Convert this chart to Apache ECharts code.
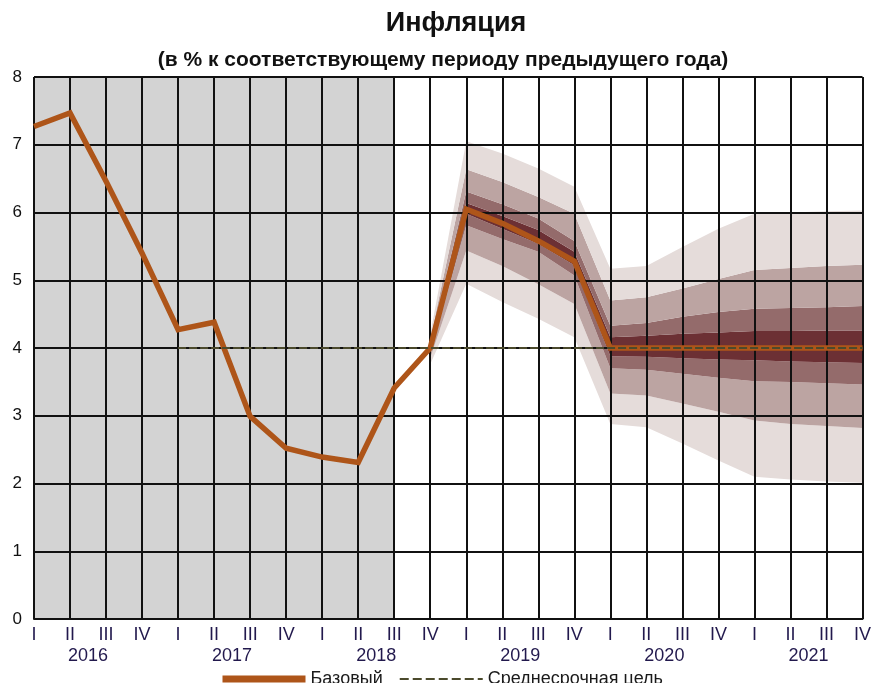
<!DOCTYPE html>
<html>
<head>
<meta charset="utf-8">
<script src="https://cdn.jsdelivr.net/npm/echarts@6/dist/echarts.min.js"></script>
<style>
  html, body { margin: 0; padding: 0; background: #fff; }
  #chart { width: 874px; height: 683px; }
</style>
</head>
<body>
<div id="chart"></div>
<script>
// кварталы и годы
const quarters = ['I', 'II', 'III', 'IV', 'I', 'II', 'III', 'IV', 'I', 'II', 'III', 'IV',
  'I', 'II', 'III', 'IV', 'I', 'II', 'III', 'IV', 'I', 'II', 'III', 'IV']
const years = ['2016', '2017', '2018', '2019', '2020', '2021']

// базовый сценарий
const base = [7.27, 7.47, 6.46, 5.40, 4.27, 4.38, 2.99, 2.52, 2.39, 2.31, 3.41, 4.00,
  6.05, 5.84, 5.58, 5.28, 4.00, 4.00, 4.00, 4.00, 4.00, 4.00, 4.00, 4.00]
// среднесрочная цель (с 2017 I)
const target = [null, null, null, null, 4, 4, 4, 4, 4, 4, 4, 4,
  4, 4, 4, 4, 4, 4, 4, 4, 4, 4, 4, 4]

// веер неопределенности, с 2018 IV по 2021 IV
const lightLow = [3.76, 4.95, 4.68, 4.43, 4.16, 2.88, 2.83, 2.59, 2.34, 2.10, 2.06, 2.03, 2.01]
const medLow = [3.85, 5.44, 5.21, 4.94, 4.65, 3.33, 3.30, 3.18, 3.06, 2.93, 2.88, 2.85, 2.82]
const darkLow = [3.92, 5.81, 5.61, 5.42, 5.07, 3.70, 3.68, 3.62, 3.56, 3.51, 3.50, 3.48, 3.46]
const coreLow = [3.96, 5.98, 5.76, 5.54, 5.22, 3.88, 3.87, 3.85, 3.83, 3.82, 3.80, 3.79, 3.78]
const coreHigh = [4.04, 6.14, 5.95, 5.74, 5.42, 4.16, 4.18, 4.21, 4.23, 4.25, 4.25, 4.26, 4.26]
const darkHigh = [4.08, 6.31, 6.12, 5.91, 5.58, 4.33, 4.37, 4.46, 4.53, 4.58, 4.59, 4.60, 4.62]
const medHigh = [4.13, 6.64, 6.45, 6.23, 5.98, 4.70, 4.75, 4.88, 5.02, 5.15, 5.18, 5.21, 5.23]
const lightHigh = [4.20, 7.05, 6.87, 6.65, 6.38, 5.17, 5.21, 5.49, 5.76, 5.98, 6.00, 6.02, 6.03]
const fanStart = 11

const fanColors = {
  light: '#e5dcda',
  med: '#bca4a2',
  dark: '#946b6b',
  core: '#6c3034'
}

const pad = (arr) => Array(fanStart).fill(null).concat(arr)
const diff = (hi, lo) => pad(hi.map((v, i) => +(v - lo[i]).toFixed(3)))

const fanLayers = [
  {data: pad(lightLow), color: 'transparent'},
  {data: diff(medLow, lightLow), color: fanColors.light},
  {data: diff(darkLow, medLow), color: fanColors.med},
  {data: diff(coreLow, darkLow), color: fanColors.dark},
  {data: diff(coreHigh, coreLow), color: fanColors.core},
  {data: diff(darkHigh, coreHigh), color: fanColors.dark},
  {data: diff(medHigh, darkHigh), color: fanColors.med},
  {data: diff(lightHigh, medHigh), color: fanColors.light}
]

const labelColor = '#22194d'

const myChart = echarts.init(document.getElementById('chart'))

const option = {
  animation: false,
  textStyle: {fontFamily: 'Arial, "Liberation Sans", sans-serif'},
  title: [
    {
      text: 'Инфляция',
      left: 451,
      top: 5,
      textAlign: 'center',
      textStyle: {fontSize: 27, fontWeight: 'bold', color: '#111'}
    },
    {
      text: '(в % к соответствующему периоду предыдущего года)',
      left: 438,
      top: 45,
      textAlign: 'center',
      textStyle: {fontSize: 21, fontWeight: 'bold', color: '#111'}
    }
  ],
  legend: {
    left: 214,
    top: 665,
    itemWidth: 83,
    itemHeight: 10,
    itemGap: 16,
    itemStyle: {color: 'transparent', borderColor: 'transparent', borderWidth: 0},
    textStyle: {fontSize: 18, color: '#1a1a1a'},
    data: [
      {name: 'Базовый', lineStyle: {width: 7}},
      {name: 'Среднесрочная цель', lineStyle: {width: 2, type: [9, 4]}}
    ]
  },
  grid: {
    left: 34,
    right: 8,
    top: 77,
    bottom: 64,
    containLabel: false
  },
  xAxis: [
    {
      type: 'category',
      data: quarters.map((q, i) => i),
      boundaryGap: false,
      z: 3,
      axisLine: {show: true, lineStyle: {color: '#111', width: 2}},
      axisTick: {show: false},
      splitLine: {show: true, lineStyle: {color: '#111', width: 2}},
      axisLabel: {
        interval: 0,
        margin: 7,
        fontSize: 18,
        color: labelColor,
        formatter: (v, i) => quarters[i]
      }
    },
    {
      type: 'category',
      data: quarters.map((q, i) => i),
      boundaryGap: false,
      position: 'bottom',
      axisLine: {show: false},
      axisTick: {show: false},
      splitLine: {show: false},
      axisLabel: {
        interval: 0,
        margin: 28,
        fontSize: 18,
        color: labelColor,
        padding: [0, 0, 0, 36],
        formatter: (v, i) => (i % 4 === 1 ? years[(i - 1) / 4] : '')
      }
    }
  ],
  yAxis: {
    type: 'value',
    min: 0,
    max: 8,
    interval: 1,
    z: 3,
    axisLine: {show: false},
    axisTick: {show: false},
    splitLine: {show: true, lineStyle: {color: '#111', width: 2}},
    axisLabel: {fontSize: 17, color: '#111', margin: 12}
  },
  series: [
    {
      name: 'история',
      type: 'line',
      data: [],
      z: 1,
      silent: true,
      markArea: {
        silent: true,
        itemStyle: {color: '#d3d3d3'},
        data: [[{xAxis: 0}, {xAxis: 10}]]
      }
    },
    ...fanLayers.map((layer, i) => ({
      name: 'fan' + i,
      type: 'line',
      stack: 'fan',
      data: layer.data,
      z: 2,
      symbol: 'none',
      silent: true,
      lineStyle: {width: 0, opacity: 0},
      areaStyle: {color: layer.color, opacity: 1}
    })),
    {
      name: 'Базовый',
      type: 'line',
      data: base,
      z: 5,
      symbol: 'none',
      color: '#ae5519',
      lineStyle: {width: 5.5, color: '#ae5519', join: 'miter'}
    },
    {
      name: 'Среднесрочная цель',
      type: 'line',
      data: target,
      z: 6,
      symbol: 'none',
      color: '#4b4a2c',
      lineStyle: {width: 2, type: [8, 3], color: '#4b4a2c'}
    }
  ]
}

option && myChart.setOption(option)
</script>
</body>
</html>
